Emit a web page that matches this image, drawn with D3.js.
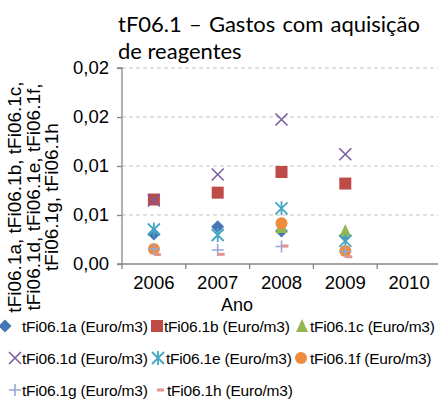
<!DOCTYPE html>
<html>
<head>
<meta charset="utf-8">
<script src="https://cdn.jsdelivr.net/npm/d3@7"></script>
<style>
  html, body { margin: 0; padding: 0; background: #fff; }
  svg { display: block; }
</style>
</head>
<body>
<svg id="chart" width="438" height="400"></svg>
<script>
// Categories and values (Euro/m3)
const years = ["2006", "2007", "2008", "2009", "2010"];
const seriesNames = [
  "tFi06.1a (Euro/m3)", "tFi06.1b (Euro/m3)", "tFi06.1c (Euro/m3)", "tFi06.1d (Euro/m3)",
  "tFi06.1e (Euro/m3)", "tFi06.1f (Euro/m3)", "tFi06.1g (Euro/m3)", "tFi06.1h (Euro/m3)"
];
const valuesA = [0.00306, 0.00380, 0.00337, 0.00286, null];
const valuesB = [0.00658, 0.00728, 0.00939, 0.00821, null];
const valuesC = [null, null, 0.00378, 0.00337, null];
const valuesD = [0.00648, 0.00913, 0.01474, 0.01120, null];
const valuesE = [0.00352, 0.00296, 0.00568, 0.00235, null];
const valuesF = [0.00153, null, 0.00415, 0.00133, null];
const valuesG = [0.00153, 0.00143, 0.00179, 0.00128, null];
const valuesH = [0.00097, 0.00099, 0.00184, 0.00074, null];
const yTickValues = [0, 0.005, 0.01, 0.015, 0.02];
const yTickLabels = ["0,00", "0,01", "0,01", "0,02", "0,02"];
const titleLines = [["tF06.1", "–", "Gastos", "com", "aquisição"], ["de reagentes"]];
const yTitleLines = ["tFi06.1a, tFi06.1b, tFi06.1c,", "tFi06.1d, tFi06.1e, tFi06.1f,", "tFi06.1g, tFi06.1h"];
const xTitle = "Ano";

const allValues = [valuesA, valuesB, valuesC, valuesD, valuesE, valuesF, valuesG, valuesH];
const colors = ["#4676B6", "#BE4B48", "#93B653", "#7B5E9F", "#45A7C2", "#F08A3C", "#93AAD6", "#E39391"];
const shapes = ["diamond", "square", "triangle", "x", "asterisk", "circle", "plus", "dash"];

const svg = d3.select("#chart");
const FONT = "'Liberation Sans', Arial, sans-serif";

const x = d3.scaleBand().domain(years).range([122, 441]).paddingInner(0).paddingOuter(0);
const y = d3.scaleLinear().domain([0, 0.02]).range([264, 68]);

// Marker drawing into a group centred on the point
function marker(g, shape, color) {
  const s = 6;
  switch (shape) {
    case "diamond":
      g.append("path").attr("d", `M0,${-s - 0.5}L${s + 0.5},0L0,${s + 0.5}L${-s - 0.5},0Z`).attr("fill", color);
      break;
    case "square":
      g.append("rect").attr("x", -s).attr("y", -s).attr("width", 2 * s).attr("height", 2 * s).attr("fill", color);
      break;
    case "triangle":
      g.append("path").attr("d", `M0,${-s - 1}L${s},${s}L${-s},${s}Z`).attr("fill", color);
      break;
    case "x":
      g.append("path").attr("d", `M${-s},${-s}L${s},${s}M${s},${-s}L${-s},${s}`)
        .attr("stroke", color).attr("stroke-width", 1.6).attr("fill", "none");
      break;
    case "asterisk":
      g.append("path").attr("d", `M${-s},${-s}L${s},${s}M${s},${-s}L${-s},${s}M0,${-s - 1}L0,${s + 1}`)
        .attr("stroke", color).attr("stroke-width", 1.8).attr("fill", "none");
      break;
    case "circle":
      g.append("circle").attr("r", s).attr("fill", color);
      break;
    case "plus":
      g.append("path").attr("d", `M${-s},0L${s},0M0,${-s}L0,${s}`)
        .attr("stroke", color).attr("stroke-width", 1.6).attr("fill", "none");
      break;
    case "dash":
      g.append("rect").attr("x", 0).attr("y", -1.5).attr("width", 7).attr("height", 3).attr("fill", color);
      break;
  }
  return g;
}

// Gridlines (dashed)
svg.append("g").selectAll("line").data(yTickValues.slice(1)).join("line")
  .attr("x1", 122).attr("x2", 441)
  .attr("y1", d => y(d)).attr("y2", d => y(d))
  .attr("stroke", "#C4C4C4").attr("stroke-width", 1.2).attr("stroke-dasharray", "4,3");

// Y axis
const yAxis = d3.axisLeft(y).tickValues(yTickValues)
  .tickFormat((d, i) => yTickLabels[i]).tickSize(5).tickPadding(8);
const gy = svg.append("g").attr("transform", "translate(122,0)").call(yAxis);
gy.select(".domain").attr("stroke", "#868686").attr("stroke-width", 1.3).attr("d", `M-5,${y(0)}H0V${y(0.02)}H-5`);
gy.selectAll(".tick line").attr("stroke", "#868686").attr("stroke-width", 1.3);
gy.selectAll(".tick text").attr("font-family", FONT).attr("font-size", 18.5).attr("fill", "#000");

// X axis with ticks at band boundaries
const gx = svg.append("g").attr("transform", `translate(0,${y(0)})`);
gx.append("line").attr("x1", 122).attr("x2", 441).attr("stroke", "#868686").attr("stroke-width", 1.3);
const boundaries = years.map(d => x(d)).concat([x(years[years.length - 1]) + x.bandwidth()]);
gx.selectAll(".xt").data(boundaries).join("line").attr("class", "xt")
  .attr("x1", d => d).attr("x2", d => d).attr("y1", 0).attr("y2", 5)
  .attr("stroke", "#868686").attr("stroke-width", 1.3);
gx.selectAll(".xl").data(years).join("text").attr("class", "xl")
  .attr("x", d => x(d) + x.bandwidth() / 2).attr("y", 25)
  .attr("text-anchor", "middle").attr("font-family", FONT).attr("font-size", 18.5)
  .text(d => d);

// Series markers
allValues.forEach((vals, si) => {
  const g = svg.append("g");
  years.forEach((yr, i) => {
    const v = vals[i];
    if (v == null) return;
    const m = g.append("g").attr("transform", `translate(${x(yr) + x.bandwidth() / 2},${y(v)})`);
    marker(m, shapes[si], colors[si]);
  });
});

// Title (first line justified across its width)
const titleX = 118, titleW = 302;
const t1 = svg.append("g");
const words = titleLines[0].map(w => t1.append("text")
  .attr("font-family", "Lato, 'Open Sans', sans-serif").attr("font-size", 22).attr("y", 32).text(w));
const widths = words.map(w => w.node().getComputedTextLength());
const gap = (titleW - d3.sum(widths)) / (words.length - 1);
let cx = titleX;
words.forEach((w, i) => { w.attr("x", cx); cx += widths[i] + gap; });
svg.append("text").attr("x", titleX).attr("y", 59)
  .attr("font-family", "Lato, 'Open Sans', sans-serif").attr("font-size", 22)
  .text(titleLines[1].join(" "));

// Y axis title (rotated, three lines)
const yt = svg.append("text").attr("transform", "translate(0,197) rotate(-90)")
  .attr("text-anchor", "middle").attr("font-family", FONT).attr("font-size", 19);
yTitleLines.forEach((line, i) => {
  yt.append("tspan").attr("x", 0).attr("y", 21 + i * 18.5).text(line);
});

// X axis title
svg.append("text").attr("x", 237).attr("y", 311).attr("text-anchor", "middle")
  .attr("font-family", FONT).attr("font-size", 18).text(xTitle);

// Legend
const legendItems = [
  { m: 5, t: 22, row: 0 }, { m: 157, t: 164, row: 0 }, { m: 302, t: 310, row: 0 },
  { m: 15, t: 22, row: 1 }, { m: 158, t: 166, row: 1 }, { m: 301, t: 310, row: 1 },
  { m: 15, t: 22, row: 2 }, { m: 157, t: 167, row: 2 }
];
const rowY = [326, 358, 390];
const lg = svg.append("g");
legendItems.forEach((it, i) => {
  const cy = rowY[it.row];
  const m = lg.append("g").attr("transform", `translate(${it.m},${cy})`);
  marker(m, shapes[i], colors[i]);
  lg.append("text").attr("x", it.t).attr("y", cy + 5.5)
    .attr("font-family", FONT).attr("font-size", 15.5).attr("letter-spacing", -0.2)
    .text(seriesNames[i]);
});
</script>
</body>
</html>
